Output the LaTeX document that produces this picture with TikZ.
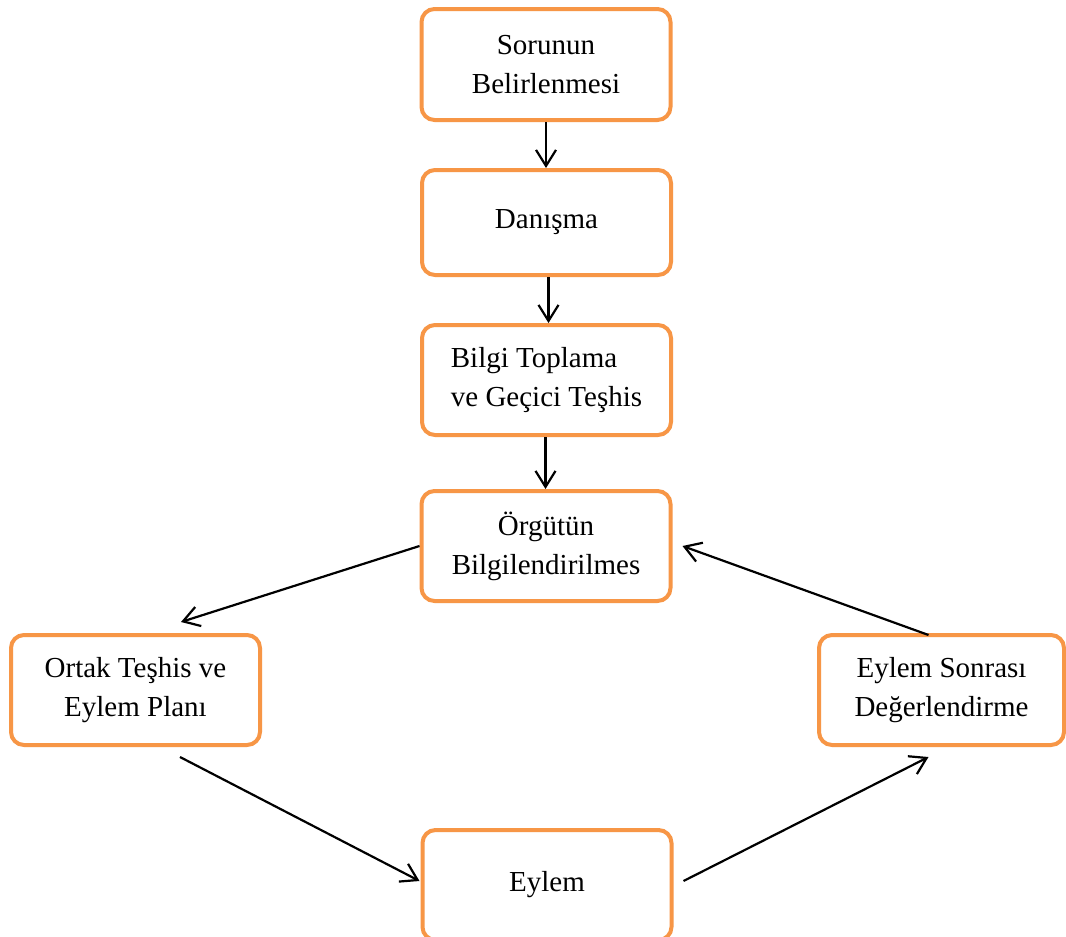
\documentclass[tikz,border=0pt]{standalone}
\usepackage{fontspec}
\setmainfont{Liberation Serif}
\usetikzlibrary{arrows.meta}
\definecolor{boxorange}{HTML}{F79646}
\begin{document}
\begin{tikzpicture}[x=1pt,y=-1pt,
  box/.style={draw=boxorange, line width=4pt, rounded corners=13pt,
    minimum width=249pt, minimum height=110pt, inner sep=0pt,
    align=center, font=\fontsize{29}{39}\selectfont, fill=white},
  conn/.style={draw=black, line width=2.2pt,
    -{Straight Barb[length=16pt,width=20pt]}}]
\useasboundingbox (0,0) rectangle (1066,937);
\fill[white] (0,0) rectangle (1066,937);
\node[box, minimum height=111pt] (b1) at (546,64.5) {Sorunun\\Belirlenmesi};
\node[box, minimum height=105pt] (b2) at (546.5,222.5) {Danışma};
\node[box, align=left] (b3) at (546.5,380) {Bilgi Toplama\\ve Geçici Teşhis};
\node[box] (b4) at (546,546) {Örgütün\\Bilgilendirilmes};
\node[box] (b5) at (135.5,690) {Ortak Teşhis ve\\Eylem Planı};
\node[box, minimum width=245pt] (b6) at (941.5,690) {Eylem Sonrası\\Değerlendirme};
\node[box] (b7) at (547,885) {Eylem};
\draw[conn] (b1.south) -- (b1.south |- b2.north);
\draw[conn] ([xshift=2pt]b2.south) -- ([xshift=2pt]b2.south |- b3.north);
\draw[conn] ([xshift=-1pt]b3.south) -- ([xshift=-1pt]b3.south |- b4.north);
\draw[conn] (b4.west) -- ([shift={(45.5,-11)}]b5.north);
\draw[conn] ([shift={(44.5,10)}]b5.south) -- ([shift={(-1,-4)}]b7.west);
\draw[conn] ([shift={(10,-4)}]b7.east) -- ([shift={(-13,10)}]b6.south);
\draw[conn] ([shift={(-13,2)}]b6.north) -- ([shift={(10,0)}]b4.east);
\end{tikzpicture}
\end{document}
